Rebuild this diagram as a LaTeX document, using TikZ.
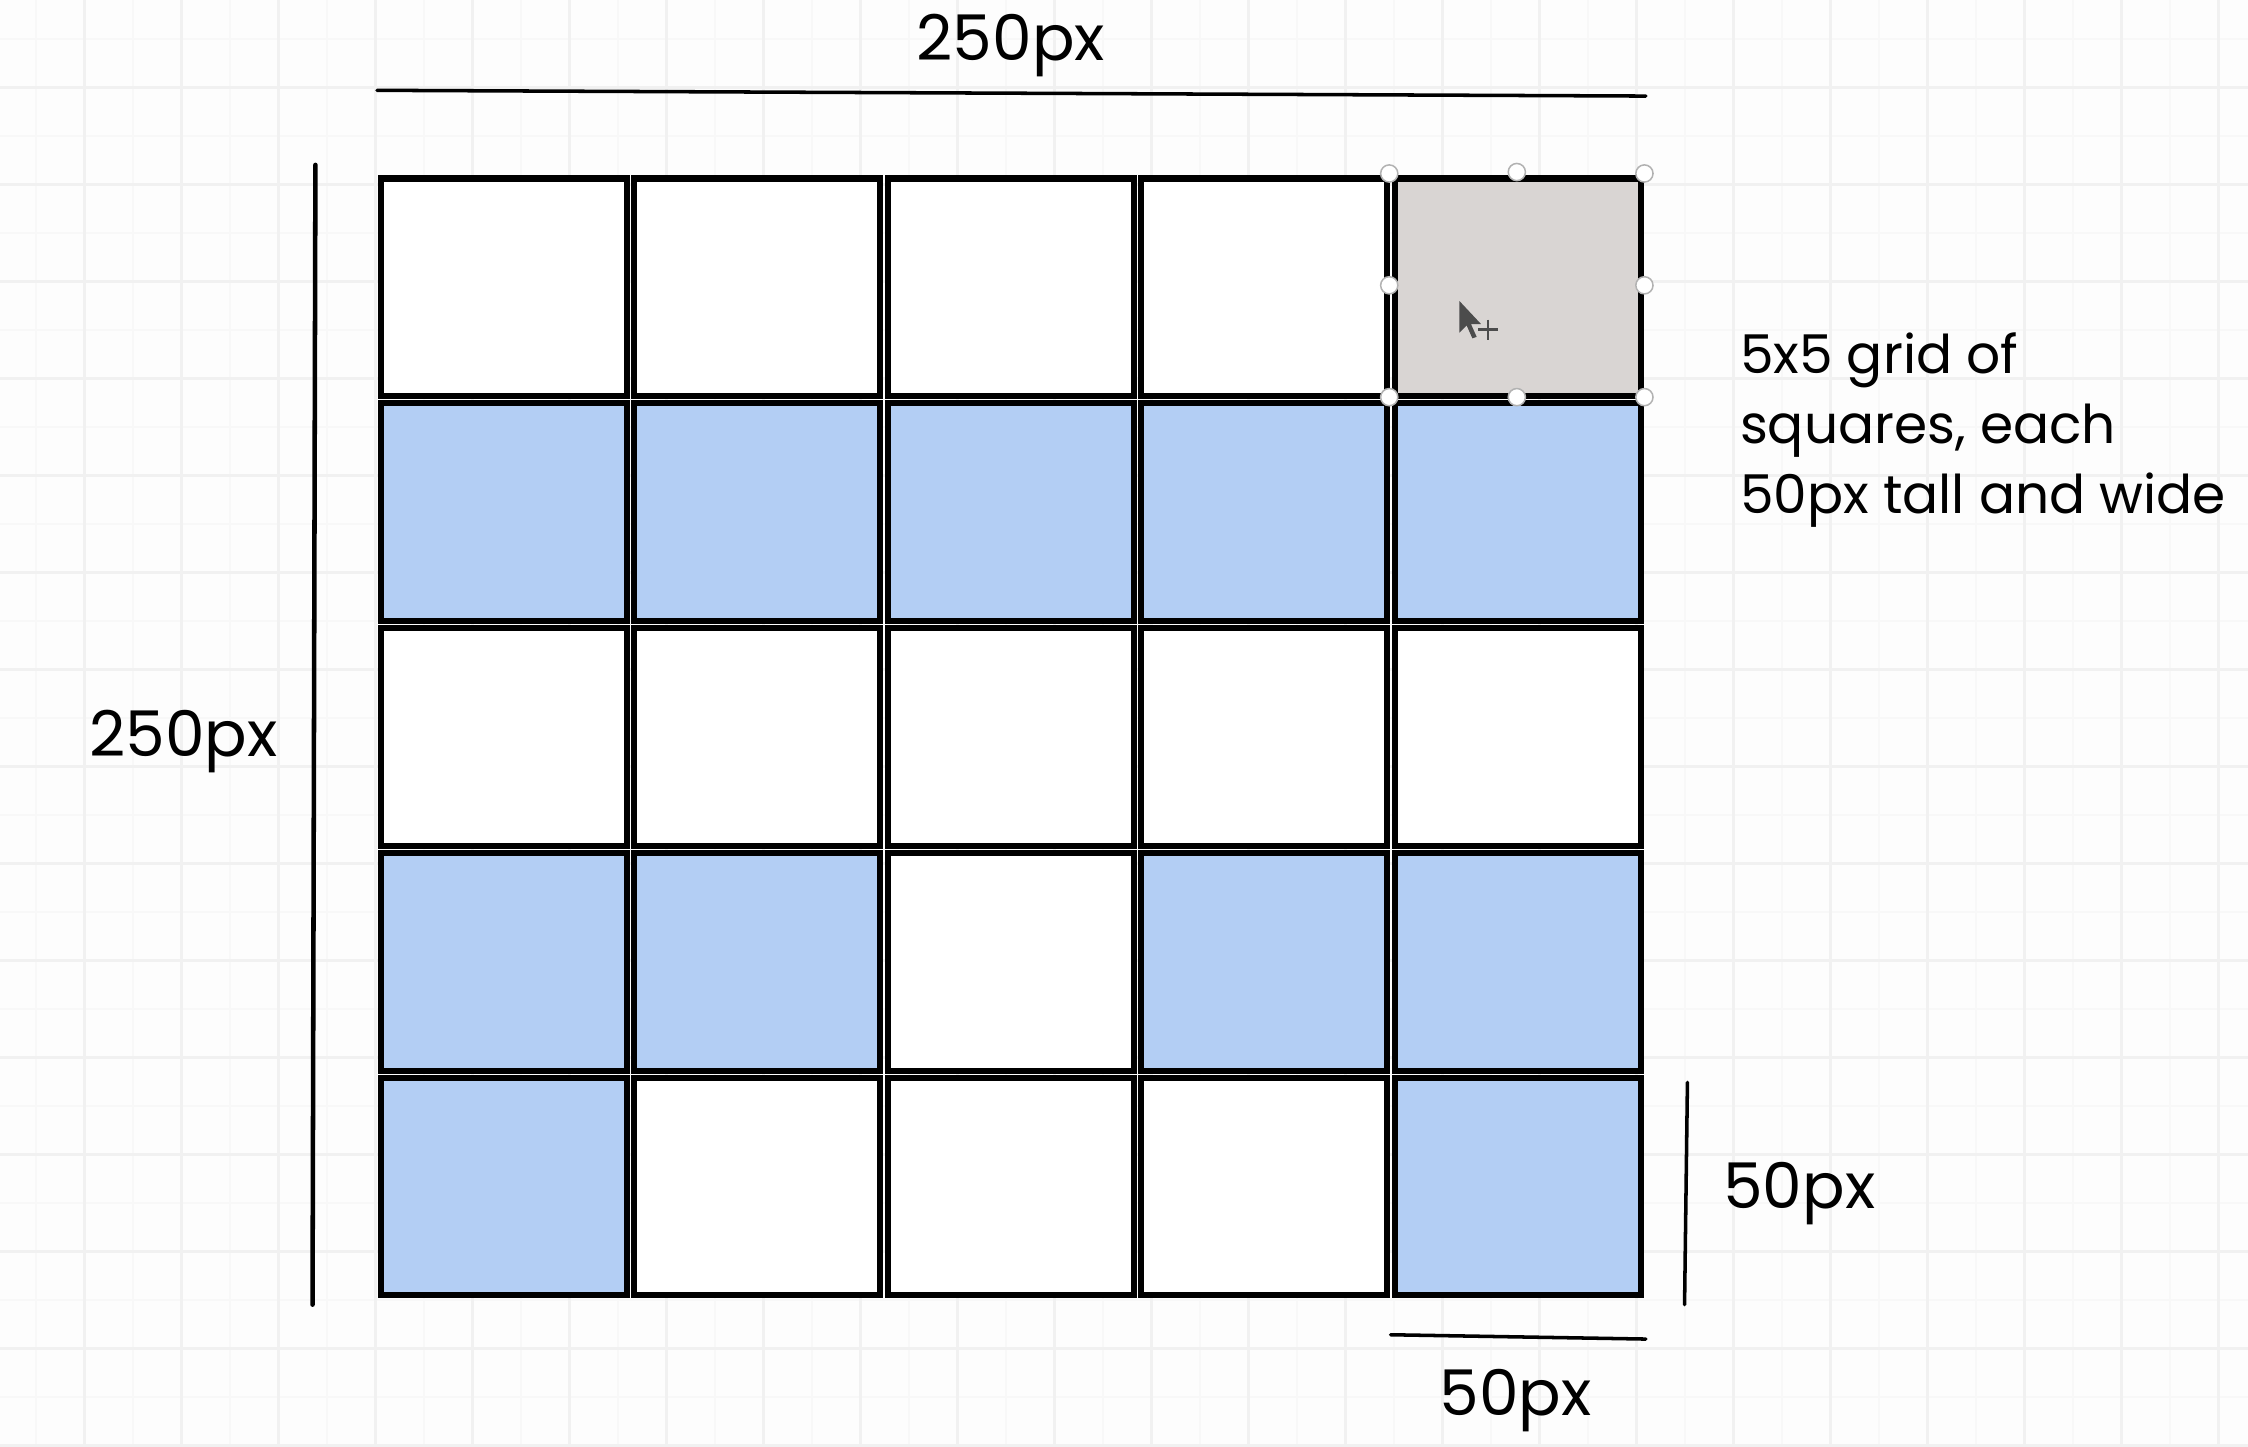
\documentclass[tikz,border=0pt]{standalone}
\usepackage{fontspec}
\setmainfont{Poppins}
\usetikzlibrary{positioning}
\definecolor{cellblue}{HTML}{B3CEF4}
\definecolor{cellgray}{HTML}{D9D5D3}
\definecolor{gridmajor}{HTML}{F1F1F1}
\definecolor{gridminor}{HTML}{F8F8F8}
\definecolor{canvas}{HTML}{FDFDFD}
\tikzset{
  cell/.style={draw=black, line width=1.2pt, inner sep=0pt,
    minimum width=17.18mm, minimum height=15.18mm},
  dimline/.style={draw=black, line width=0.7pt, line cap=round},
  dimlabel/.style={font=\fontsize{12.5}{15}\selectfont, inner sep=0pt, anchor=base},
  note/.style={font=\fontsize{10.6}{13.9}\selectfont, align=left, inner sep=0pt},
  handle/.style={circle, draw=gray!60, fill=white, line width=0.3pt,
    minimum size=1.2mm, inner sep=0pt},
}
\begin{document}
\begin{tikzpicture}[x=0.1mm, y=-0.1mm]
  % canvas and background grid
  \useasboundingbox (0,0) rectangle (1568,1009);
  \fill[canvas] (0,0) rectangle (1568,1009);
  \begin{scope}
    \clip (0,0) rectangle (1568,1009);
    \foreach \k in {0,...,23} {
      \draw[gridminor, line width=0.4pt] ({25.2+67.66*\k},0) -- ++(0,1009);
      \draw[gridminor, line width=0.4pt] (0,{27.2+67.66*\k}) -- ++(1568,0);
    }
    \foreach \k in {0,...,23} {
      \draw[gridmajor, line width=0.6pt] ({59+67.66*\k},0) -- ++(0,1009);
      \draw[gridmajor, line width=0.6pt] (0,{61+67.66*\k}) -- ++(1568,0);
    }
  \end{scope}

  % 5x5 squares
  \foreach \row/\colors in {1/{white,white,white,white,cellgray},
                            2/{cellblue,cellblue,cellblue,cellblue,cellblue},
                            3/{white,white,white,white,white},
                            4/{cellblue,cellblue,white,cellblue,cellblue},
                            5/{cellblue,white,white,white,cellblue}} {
    \foreach \c [count=\col] in \colors {
      \node[cell, fill=\c] (c\row\col) at ({263+176.8*(\col-0.5)}, {122+156.8*(\row-0.5)}) {};
    }
  }

  % selection handles and pointer
  \foreach \p [count=\i] in {(969,121),(1058,120),(1147,121),(969,199),
                             (1147,199),(969,277),(1058,277),(1147,277)} {
    \node[handle] (h\i) at \p {};
  }
  \fill[black!70] (1018,210) -- (1018,232) -- (1023,227) -- (1027,236) -- (1030,235)
    -- (1026,226) -- (1033,226) -- cycle;
  \draw[black!70, line width=0.5pt] (1031,230) -- (1045,230) (1038,223) -- (1038,237);

  % dimensions
  \coordinate (top-l) at (263,63);
  \coordinate (top-r) at (1148,67);
  \coordinate (left-t) at (220,115);
  \coordinate (left-b) at (218,910);
  \coordinate (right-t) at (1177,755);
  \coordinate (right-b) at (1175,910);
  \coordinate (bot-l) at (970,931);
  \coordinate (bot-r) at (1148,934);
  \draw[dimline] (top-l) -- (top-r);
  \draw[dimline, line width=0.9pt] (left-t) -- (left-b);
  \draw[dimline] (right-t) -- (right-b);
  \draw[dimline] (bot-l) -- (bot-r);

  \node[dimlabel] (top-lbl) at (705,42) {250px};
  \node[dimlabel] (left-lbl) at (128,528) {250px};
  \node[dimlabel] (right-lbl) at (1255,843) {50px};
  \node[dimlabel] (bot-lbl) at (1057,987) {50px};

  \node[note, anchor=north west] (note) at (1213,231) {5x5 grid of\\squares, each\\50px tall and wide};
\end{tikzpicture}
\end{document}
